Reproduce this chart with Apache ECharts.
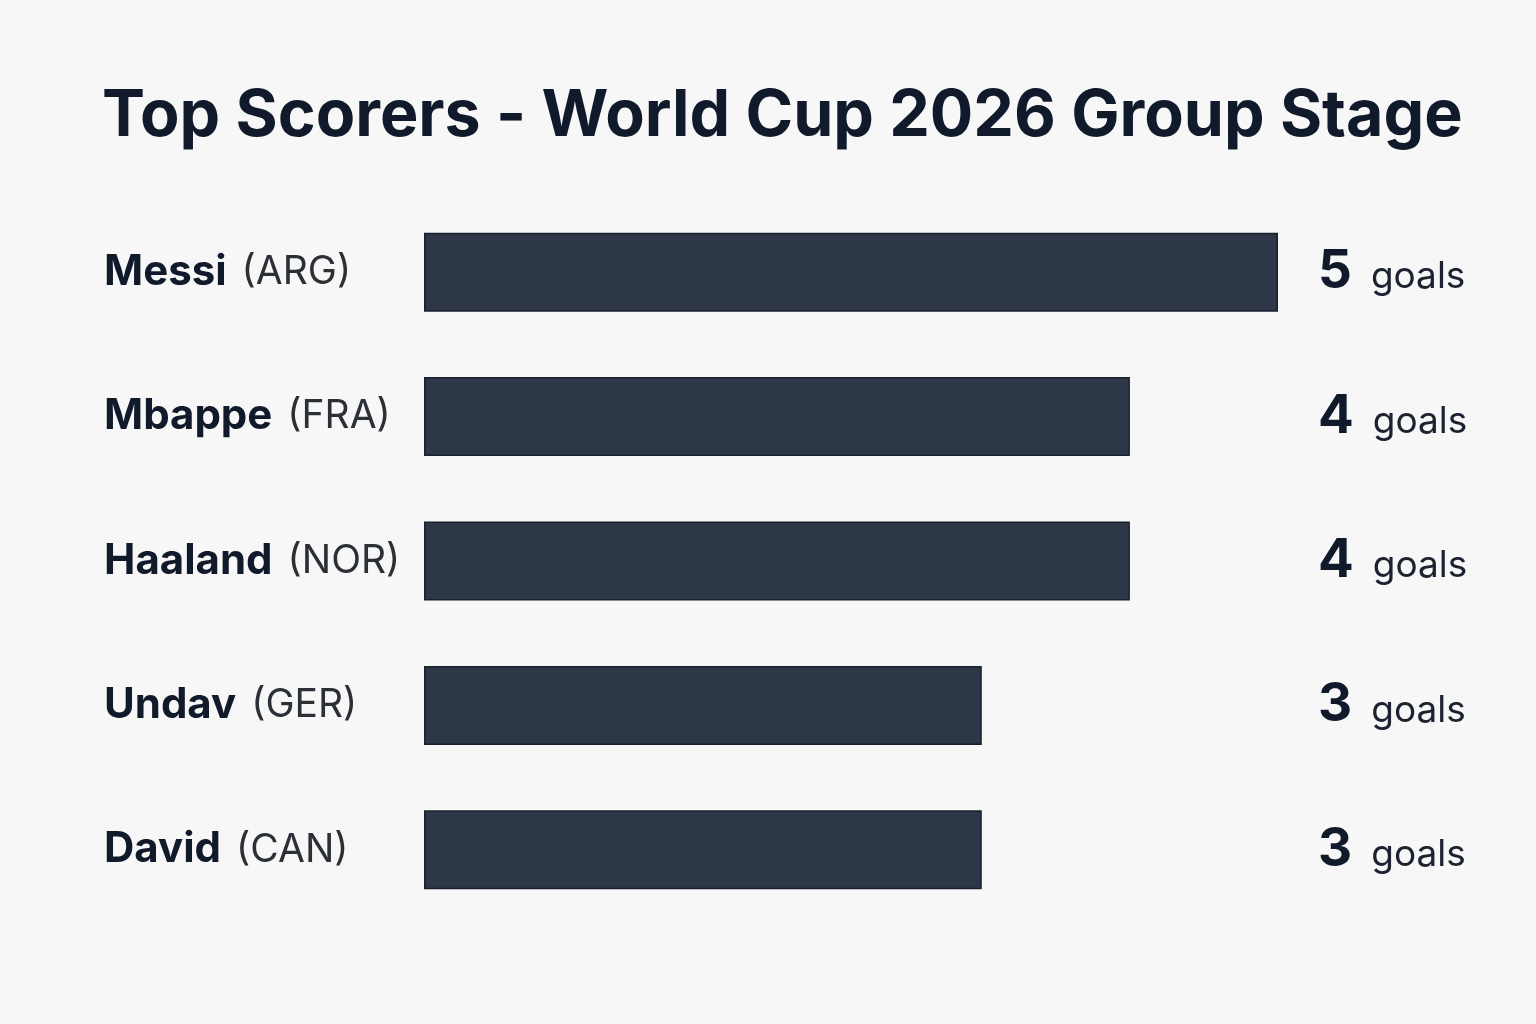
<!DOCTYPE html>
<html>
<head>
<meta charset="utf-8">
<script src="https://cdn.jsdelivr.net/npm/echarts@6/dist/echarts.min.js"></script>
<style>
html,body{margin:0;padding:0;background:#f7f7f7;}
#chart{width:1536px;height:1024px;}
</style>
</head>
<body>
<div id="chart"></div>
<script>
const players = ['Messi', 'Mbappe', 'Haaland', 'Undav', 'David'];
const countries = ['ARG', 'FRA', 'NOR', 'GER', 'CAN'];
const goals = [5, 4, 4, 3, 3];
const unitLabel = 'goals';
const titleText = 'Top Scorers - World Cup 2026 Group Stage';

const chart = echarts.init(document.getElementById('chart'));
const option = {
  backgroundColor: '#f7f7f7',
  animation: false,
  title: {
    text: titleText,
    left: 97,
    top: 79,
    textStyle: {
      fontFamily: 'Inter',
      fontWeight: 700,
      fontSize: 64.5,
      color: '#111a2b'
    }
  },
  grid: { left: 424, right: 258, top: 200, bottom: 102 },
  xAxis: {
    type: 'value',
    min: -0.766,
    max: 5,
    startValue: -0.766,
    show: false
  },
  yAxis: [
    {
      type: 'category',
      data: players,
      inverse: true,
      axisLine: { show: false },
      axisTick: { show: false },
      splitLine: { show: false },
      axisLabel: {
        align: 'left',
        margin: 320,
        formatter: function (v, i) {
          return '{n|' + v + '}{c|(' + countries[i] + ')}';
        },
        rich: {
          n: { fontFamily: 'Inter', fontWeight: 700, fontSize: 42, color: '#111a2b' },
          c: { fontFamily: 'Inter', fontWeight: 400, fontSize: 39, color: '#2b2f36', padding: [0, 0, 0, 15] }
        }
      }
    },
    {
      type: 'category',
      data: players,
      inverse: true,
      position: 'right',
      axisLine: { show: false },
      axisTick: { show: false },
      splitLine: { show: false },
      axisLabel: {
        align: 'left',
        margin: 40,
        formatter: function (v, i) {
          return '{v|' + goals[i] + '}{u|' + unitLabel + '}';
        },
        rich: {
          v: { fontFamily: 'Inter', fontWeight: 700, fontSize: 53, color: '#111a2b' },
          u: { fontFamily: 'Inter', fontWeight: 400, fontSize: 37, color: '#1c2230', padding: [10, 0, 0, 19] }
        }
      }
    }
  ],
  series: [{
    type: 'bar',
    data: goals,
    barWidth: 79,
    itemStyle: { color: '#2d3748', borderColor: '#1a202c', borderWidth: 1.5 }
  }]
};
chart.setOption(option);
</script>
</body>
</html>
